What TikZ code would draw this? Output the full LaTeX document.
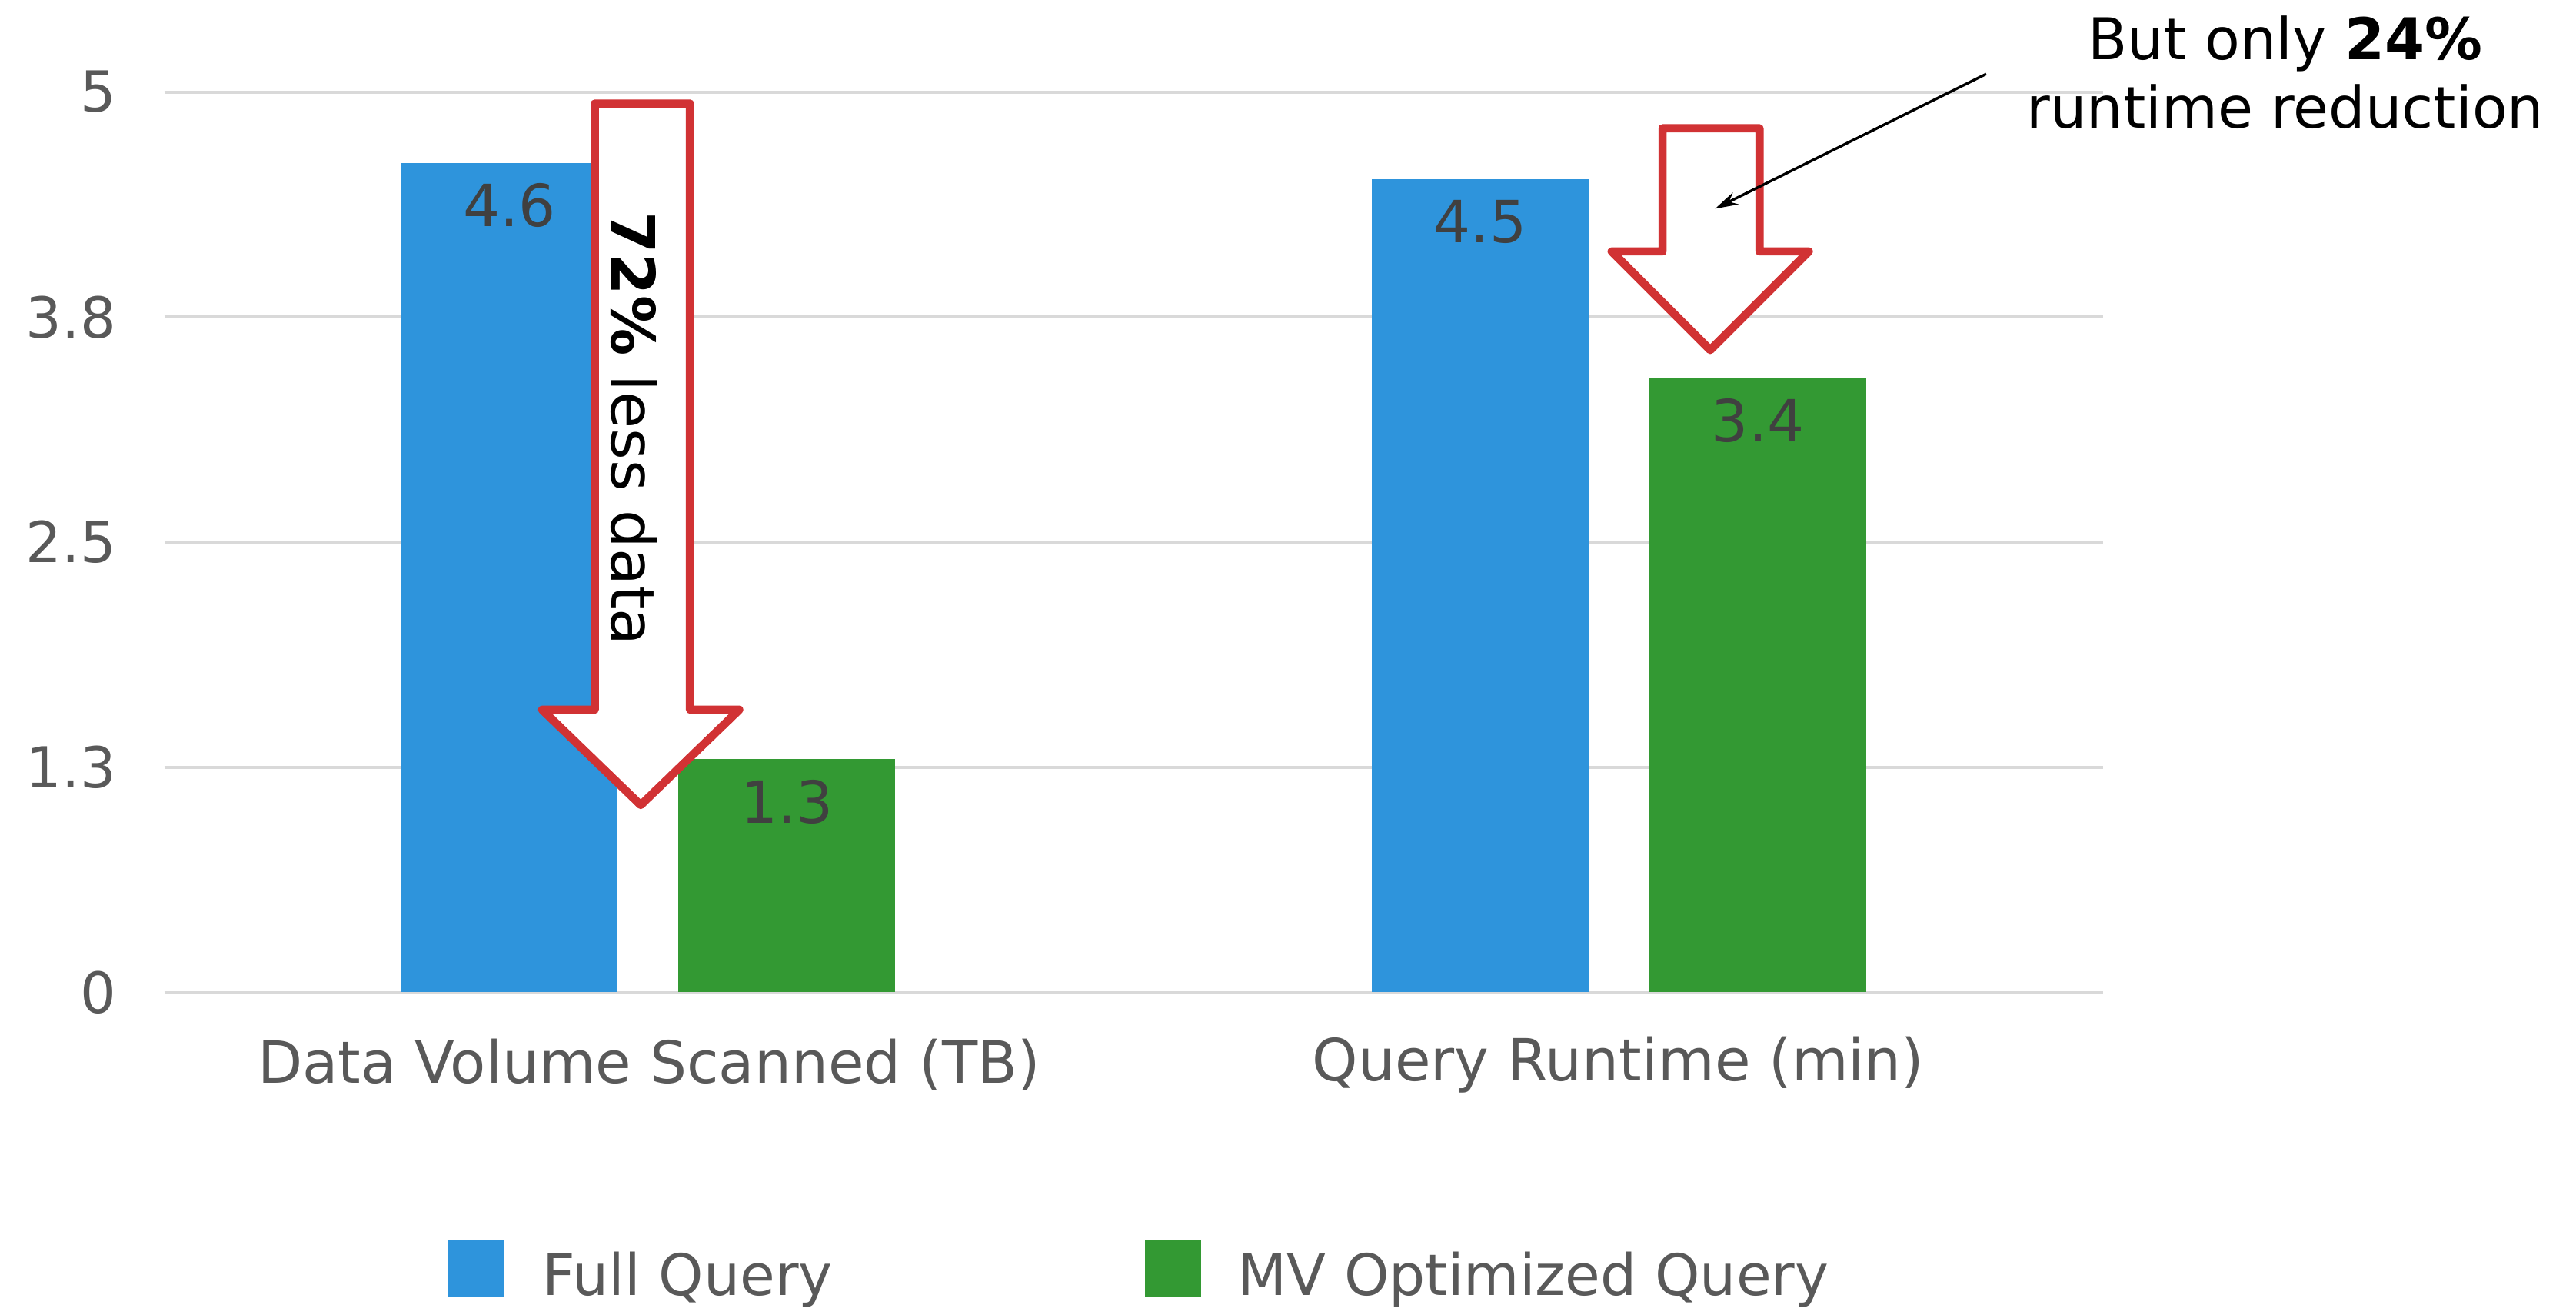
\documentclass[tikz,border=0pt]{standalone}
\usepackage{fontspec}
\setmainfont{DejaVu Sans}
\usetikzlibrary{arrows.meta}
\definecolor{barblue}{RGB}{46,148,220}
\definecolor{bargreen}{RGB}{51,153,51}
\definecolor{gridgray}{RGB}{217,217,217}
\definecolor{axisgray}{RGB}{89,89,89}
\definecolor{valgray}{RGB}{64,64,64}
\definecolor{callred}{RGB}{209,50,52}
\tikzset{
  gridline/.style={draw=gridgray, line width=0.9pt},
  ticklabel/.style={anchor=east, text=axisgray, font=\fontsize{17.2}{21}\selectfont, inner sep=0pt},
  catlabel/.style={text=axisgray, font=\fontsize{17.7}{21}\selectfont, inner sep=0pt},
  vallabel/.style={text=valgray, font=\fontsize{17.7}{21}\selectfont, inner sep=0pt},
  legtext/.style={anchor=west, text=axisgray, font=\fontsize{17.4}{21}\selectfont, inner sep=0pt},
  bigarrow/.style={draw=callred, fill=white, line width=2.5pt, line join=round},
  notetext/.style={text=black, font=\fontsize{17.5}{21}\selectfont, align=center, inner sep=0pt},
}
\begin{document}
\begin{tikzpicture}[x=0.5pt, y=-0.5pt]
\useasboundingbox (0,0) rectangle (1568,800);
\fill[white] (0,0) rectangle (1568,800);

% horizontal grid lines and value axis labels
\foreach \yy/\lab/\nm in {56/5/t5, 193/3.8/t4, 330/2.5/t3, 467/1.3/t2, 604/0/t1} {
  \draw[gridline] (100,\yy) -- (1280,\yy);
  \node[ticklabel] (\nm) at (71,\yy) {\lab};
}

% bars
\fill[barblue]  (244,99)  rectangle (376,604);
\fill[bargreen] (413,462) rectangle (545,604);
\fill[barblue]  (835,109) rectangle (967,604);
\fill[bargreen] (1004,230) rectangle (1136,604);

% block arrows
\draw[bigarrow] (362,63) -- (420,63) -- (420,432) -- (450,432) -- (390,490)
  -- (330,432) -- (362,432) -- cycle;
\draw[bigarrow] (1012,78) -- (1071,78) -- (1071,153) -- (1101,153) -- (1041,213)
  -- (981,153) -- (1012,153) -- cycle;

% value labels
\node[vallabel] (v1) at (310,125) {4.6};
\node[vallabel] (v2) at (479,488) {1.3};
\node[vallabel] (v3) at (901,135) {4.5};
\node[vallabel] (v4) at (1070,256) {3.4};

% text inside the first block arrow
\node[rotate=-90, inner sep=0pt, font=\fontsize{18.3}{22}\selectfont] (less) at (386,261)
  {\textbf{72\%} less data};

% category labels
\node[catlabel] (c1) at (395,648) {Data Volume Scanned (TB)};
\node[catlabel] (c2) at (985,648) {Query Runtime (min)};

% legend
\fill[barblue]  (273,755) rectangle (307,789);
\node[legtext] (l1) at (330,779) {Full Query};
\fill[bargreen] (697,755) rectangle (731,789);
\node[legtext] (l2) at (753,779) {MV Optimized Query};

% callout
\node[notetext] (note) at (1391,44) {But only \textbf{24\%}\\runtime reduction};
\coordinate (notefrom) at (1209,45);
\coordinate (noteto) at (1044,127);
\draw[black, line width=0.8pt, -{Stealth[length=7pt, width=4pt]}] (notefrom) -- (noteto);
\end{tikzpicture}
\end{document}
